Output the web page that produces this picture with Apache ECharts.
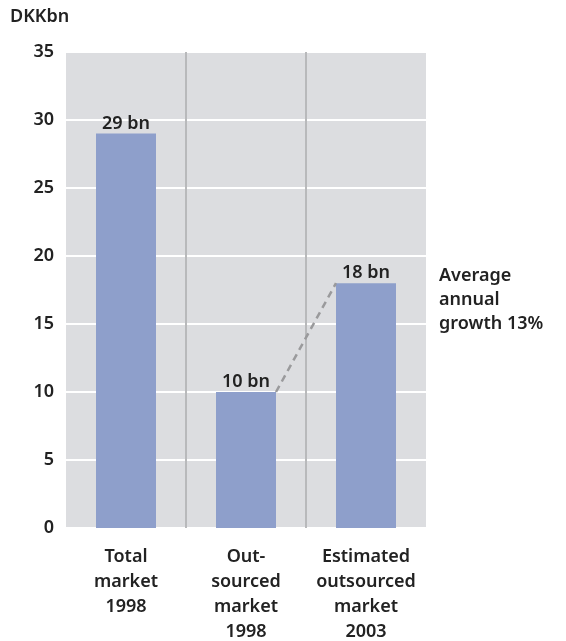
<!DOCTYPE html>
<html>
<head>
<meta charset="utf-8">
<script src="https://cdn.jsdelivr.net/npm/echarts@6/dist/echarts.min.js"></script>
<style>
  html, body { margin: 0; padding: 0; background: #fff; }
  #chart { width: 566px; height: 641px; }
</style>
</head>
<body>
<div id="chart"></div>
<script>
// data
var categories = ['Total\nmarket\n1998', 'Out-\nsourced\nmarket\n1998', 'Estimated\noutsourced\nmarket\n2003'];
var values = [29, 10, 18];
var barLabels = ['29 bn', '10 bn', '18 bn'];
// growth line joins the right edge of bar 2 with the left edge of bar 3
var growthLine = [[1.75, 10], [2.25, 18]];
var yTicks = [0, 5, 10, 15, 20, 25, 30, 35];

var font = 'Noto Sans';
var textColor = '#222';

var myChart = echarts.init(document.getElementById('chart'));

var option = {
    animation: false,
    grid: {
        left: 66, right: 140, top: 52, bottom: 113,
        outerBoundsMode: 'none',
        containLabel: false,
        show: true,
        backgroundColor: '#dcdde0',
        borderWidth: 0
    },
    graphic: [{
        type: 'text', left: 10, top: 8,
        style: { text: 'DKKbn', font: '600 18px "Noto Sans"', fill: textColor }
    }, {
        type: 'text', left: 439, top: 264,
        style: {
            text: 'Average\nannual\ngrowth 13%',
            font: '600 18px "Noto Sans"', fill: textColor, lineHeight: 24
        }
    }],
    xAxis: [{
        type: 'category',
        data: categories,
        axisLine: { show: false },
        axisTick: { show: false },
        splitLine: {
            show: true, showMinLine: false, showMaxLine: false,
            lineStyle: { color: '#b8b9bb', width: 2 }
        },
        axisLabel: {
            margin: 16, color: textColor, fontFamily: font, fontSize: 18,
            fontWeight: 600, lineHeight: 25, interval: 0
        }
    }, {
        type: 'value', min: 0, max: 3, show: false
    }],
    yAxis: {
        type: 'value', min: 0, max: 35, interval: 5,
        axisLine: { show: false },
        axisTick: { show: false },
        splitLine: { lineStyle: { color: '#ffffff', width: 2 } },
        axisLabel: {
            margin: 12, color: textColor, fontFamily: font, fontSize: 18, fontWeight: 600
        }
    },
    series: [{
        type: 'bar',
        data: values,
        barWidth: '50%',
        itemStyle: { color: '#8e9fcb' },
        label: {
            show: true, position: 'top', distance: 1,
            color: textColor, fontFamily: font, fontSize: 18, fontWeight: 600,
            formatter: function (p) { return barLabels[p.dataIndex]; }
        },
        z: 2
    }, {
        type: 'line',
        xAxisIndex: 1,
        data: growthLine,
        showSymbol: false,
        lineStyle: { color: '#9a9a9c', width: 2.5, type: [7, 5] },
        z: 3
    }]
};

myChart.setOption(option);
</script>
</body>
</html>
